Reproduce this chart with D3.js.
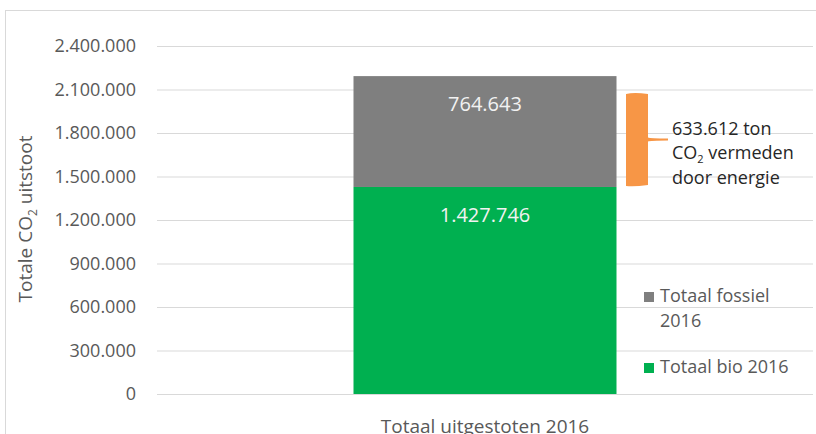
<!DOCTYPE html>
<html>
<head>
<meta charset="utf-8">
<script src="https://cdn.jsdelivr.net/npm/d3@7"></script>
<style>
  body { margin: 0; background: #fff; }
  text { font-family: "Open Sans", sans-serif; }
</style>
</head>
<body>
<div class="container"></div>
<script>
// chart values
var categories = ['Totaal uitgestoten 2016'];
var bioValues = [1427746];
var fossilValues = [764643];
var avoidedValue = 633612;
var yTicks = [0, 300000, 600000, 900000, 1200000, 1500000, 1800000, 2100000, 2400000];
var seriesNames = ['Totaal bio 2016', 'Totaal fossiel 2016'];

var WIDTH = 816, HEIGHT = 434;
var LEFT = 157, RIGHT = 813, TOP = 46, BOTTOM = 394;
var GREEN = '#00b050', GREY = '#7f7f7f', ORANGE = '#f79646';

var fmt = function (v) {
    return d3.format(',')(v).replace(/,/g, '.');
};

var svg = d3.select('.container').append('svg')
    .attr('width', WIDTH)
    .attr('height', HEIGHT);

// outer frame
svg.append('rect')
    .attr('x', 5.5).attr('y', 10.5)
    .attr('width', WIDTH).attr('height', HEIGHT)
    .attr('fill', 'none').attr('stroke', '#d9d9d9');

var xScale = d3.scaleBand().domain(categories).range([LEFT, RIGHT]).paddingInner(0).paddingOuter(0.5);
var yScale = d3.scaleLinear().domain([0, 2400000]).range([BOTTOM, TOP]);

// gridlines + tick labels
var yAxis = d3.axisLeft(yScale).tickValues(yTicks).tickFormat(fmt)
    .tickSize(-(RIGHT - LEFT)).tickPadding(21);
var gy = svg.append('g').attr('transform', 'translate(' + LEFT + ',0)').call(yAxis);
gy.select('.domain').remove();
gy.selectAll('line').attr('stroke', '#d9d9d9');
gy.selectAll('text').attr('fill', '#595959').style('font-size', '18px')
    .attr('font-family', '"Open Sans", sans-serif');

// bars
var barW = 263;
var stack = categories.map(function (c, i) {
    return [
        { name: seriesNames[0], y0: 0, y1: bioValues[i], color: GREEN, cat: c },
        { name: seriesNames[1], y0: bioValues[i], y1: bioValues[i] + fossilValues[i], color: GREY, cat: c }
    ];
});
var segs = d3.merge(stack);
var cx = function (d) { return xScale(d.cat) + xScale.bandwidth() / 2; };

svg.selectAll('rect.bar').data(segs).enter().append('rect')
    .attr('class', 'bar')
    .attr('x', function (d) { return cx(d) - barW / 2; })
    .attr('width', barW)
    .attr('y', function (d) { return yScale(d.y1); })
    .attr('height', function (d) { return yScale(d.y0) - yScale(d.y1); })
    .attr('fill', function (d) { return d.color; });

svg.selectAll('text.val').data(segs).enter().append('text')
    .attr('class', 'val')
    .attr('x', cx)
    .attr('y', function (d) { return yScale(d.y1) + 35; })
    .attr('text-anchor', 'middle')
    .attr('fill', '#f2f2f2')
    .style('font-size', '20px')
    .text(function (d) { return fmt(d.y1 - d.y0); });

// category label
svg.selectAll('text.cat').data(categories).enter().append('text')
    .attr('class', 'cat')
    .attr('x', function (d) { return xScale(d) + xScale.bandwidth() / 2; })
    .attr('y', 433)
    .attr('text-anchor', 'middle')
    .attr('fill', '#595959')
    .style('font-size', '19px')
    .text(function (d) { return d; });

// y axis title
var yt = svg.append('text')
    .attr('transform', 'translate(32,219) rotate(-90)')
    .attr('text-anchor', 'middle')
    .attr('fill', '#595959')
    .style('font-size', '19px');
yt.append('tspan').text('Totale CO');
yt.append('tspan').attr('dy', 5).style('font-size', '12px').text('2');
yt.append('tspan').attr('dy', -5).text(' uitstoot');

// orange brace for avoided CO2
var bTop = yScale(bioValues[0] + avoidedValue) - 3;
var bBot = yScale(bioValues[0]);
var bx0 = 626, bx1 = 648, tipX = 668;
var bMid = (bTop + bBot) / 2;
var brace = d3.path();
brace.moveTo(bx0, bTop + 2);
brace.quadraticCurveTo(bx0 + 8, bTop, bx1, bTop + 2);
brace.lineTo(bx1, bMid - 2);
brace.quadraticCurveTo(bx1 + 2, bMid - 1, tipX, bMid - 1);
brace.lineTo(tipX, bMid + 1);
brace.quadraticCurveTo(bx1 + 2, bMid + 1, bx1, bMid + 2);
brace.lineTo(bx1, bBot - 2);
brace.quadraticCurveTo(bx0 + 8, bBot, bx0, bBot - 1);
brace.closePath();
svg.append('path').attr('d', brace.toString()).attr('fill', ORANGE);

var note = svg.append('g').attr('fill', '#262626').style('font-size', '18px');
note.append('text').attr('x', 672).attr('y', 135).text(fmt(avoidedValue) + ' ton');
var l2 = note.append('text').attr('x', 672).attr('y', 159);
l2.append('tspan').text('CO');
l2.append('tspan').attr('dy', 4).style('font-size', '11px').text('2');
l2.append('tspan').attr('dy', -4).text(' vermeden');
note.append('text').attr('x', 672).attr('y', 184).text('door energie');

// legend
var legend = [
    { color: GREY, lines: ['Totaal fossiel', '2016'], y: 292 },
    { color: GREEN, lines: ['Totaal bio 2016'], y: 363 }
];
var lg = svg.selectAll('g.leg').data(legend).enter().append('g').attr('class', 'leg');
lg.append('rect')
    .attr('x', 644).attr('y', function (d) { return d.y; })
    .attr('width', 10).attr('height', 10)
    .attr('fill', function (d) { return d.color; });
lg.each(function (d) {
    var g = d3.select(this);
    d.lines.forEach(function (t, i) {
        g.append('text')
            .attr('x', 660)
            .attr('y', d.y + 10 + i * 25)
            .attr('fill', '#595959')
            .style('font-size', '18px')
            .text(t);
    });
});
</script>
</body>
</html>
